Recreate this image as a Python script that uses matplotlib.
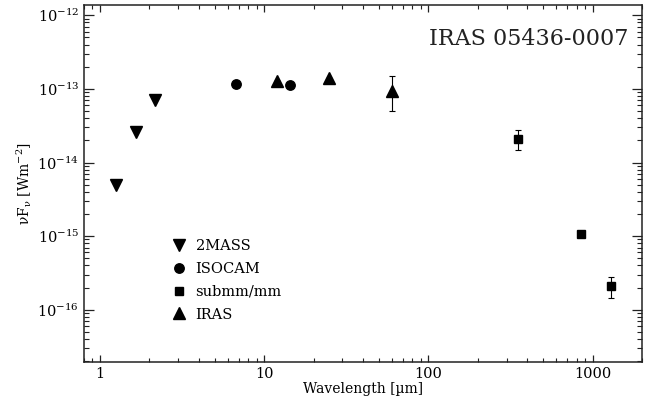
import matplotlib
matplotlib.use("Agg")
import matplotlib.pyplot as plt
from matplotlib.ticker import LogLocator, NullFormatter
from matplotlib.lines import Line2D
import numpy as np

# Data
twomass_wl = [1.25, 1.65, 2.17]
twomass_f = [4.9e-15, 2.6e-14, 7.1e-14]

isocam_wl = [6.7, 14.3]
isocam_f = [1.17e-13, 1.14e-13]

submm_wl = [350, 850, 1300]
submm_f = [2.1e-14, 1.08e-15, 2.1e-16]
submm_lo = [1.49e-14, 0.98e-15, 1.44e-16]
submm_hi = [2.78e-14, 1.18e-15, 2.8e-16]

iras_wl = [12, 25, 60]
iras_f = [1.30e-13, 1.42e-13, 9.5e-14]
iras_lo = [1.30e-13, 1.42e-13, 4.96e-14]
iras_hi = [1.30e-13, 1.42e-13, 1.49e-13]

title = "IRAS 05436-0007"

plt.rcParams['font.family'] = ['DejaVu Serif']
plt.rcParams['mathtext.fontset'] = 'dejavuserif'

fig = plt.figure(figsize=(6.59, 4.09), dpi=100)
ax = fig.add_axes([84/659, 1-362/409, (642-84)/659, (362-5)/409])

ax.plot(twomass_wl, twomass_f, 'v', color='black', ms=8.2, ls='none')
ax.plot(isocam_wl, isocam_f, 'o', color='black', ms=6.8, ls='none')
sf = np.array(submm_f)
ax.errorbar(submm_wl, submm_f, yerr=[sf-np.array(submm_lo), np.array(submm_hi)-sf],
            fmt='s', color='black', ms=6.3, capsize=2.5, elinewidth=0.8, capthick=0.8,
            ls='none')
iff = np.array(iras_f)
ax.errorbar(iras_wl, iras_f, yerr=[iff-np.array(iras_lo), np.array(iras_hi)-iff],
            fmt='^', color='black', ms=8.2, capsize=2.5, elinewidth=0.8, capthick=0.8,
            ls='none')

ax.set_xscale('log')
ax.set_yscale('log')
ax.set_xlim(0.8, 2000)
ax.set_ylim(1.95e-17, 1.38e-12)

ax.set_xticks([1, 10, 100, 1000])
ax.set_xticklabels(['1', '10', '100', '1000'])
ax.set_yticks([1e-16, 1e-15, 1e-14, 1e-13, 1e-12])
ax.set_yticklabels([r'$10^{-16}$', r'$10^{-15}$', r'$10^{-14}$', r'$10^{-13}$', r'$10^{-12}$'])
ax.yaxis.set_minor_locator(LogLocator(base=10, subs=np.arange(2, 10), numticks=30))
ax.yaxis.set_minor_formatter(NullFormatter())
ax.xaxis.set_minor_locator(LogLocator(base=10, subs=np.arange(2, 10), numticks=30))
ax.xaxis.set_minor_formatter(NullFormatter())

ax.tick_params(which='both', direction='in', top=True, right=True, labelsize=10.5, color='#222222')
ax.tick_params(axis='x', which='major', length=5, width=0.9)
ax.tick_params(axis='x', which='minor', length=3, width=0.8)
ax.tick_params(axis='y', which='major', length=7.5, width=0.9)
ax.tick_params(axis='y', which='minor', length=3.8, width=0.8)
for s in ax.spines.values():
    s.set_linewidth(1.1)
    s.set_color('#222222')

ax.set_xlabel('Wavelength [µm]', fontsize=10, labelpad=1)
ax.set_ylabel(r'νF$_{\mathrm{ν}}$ [Wm$^{-2}$]', fontsize=10, labelpad=2)

ax.text(0.975, 0.905, title, transform=ax.transAxes, ha='right', va='center', fontsize=16,
        color='#222222')

handles = [
    Line2D([], [], marker='v', color='black', ls='none', ms=8.2),
    Line2D([], [], marker='o', color='black', ls='none', ms=6.8),
    Line2D([], [], marker='s', color='black', ls='none', ms=6.3),
    Line2D([], [], marker='^', color='black', ls='none', ms=8.2),
]
labels = ['2MASS', 'ISOCAM', 'submm/mm', 'IRAS']
leg = ax.legend(handles, labels, loc='upper left', bbox_to_anchor=(0.145, 0.36), frameon=False,
                fontsize=10.5, handletextpad=0.5, labelspacing=0.6, numpoints=1,
                handlelength=1.2, borderaxespad=0)

fig.savefig('out.png', dpi=100)
